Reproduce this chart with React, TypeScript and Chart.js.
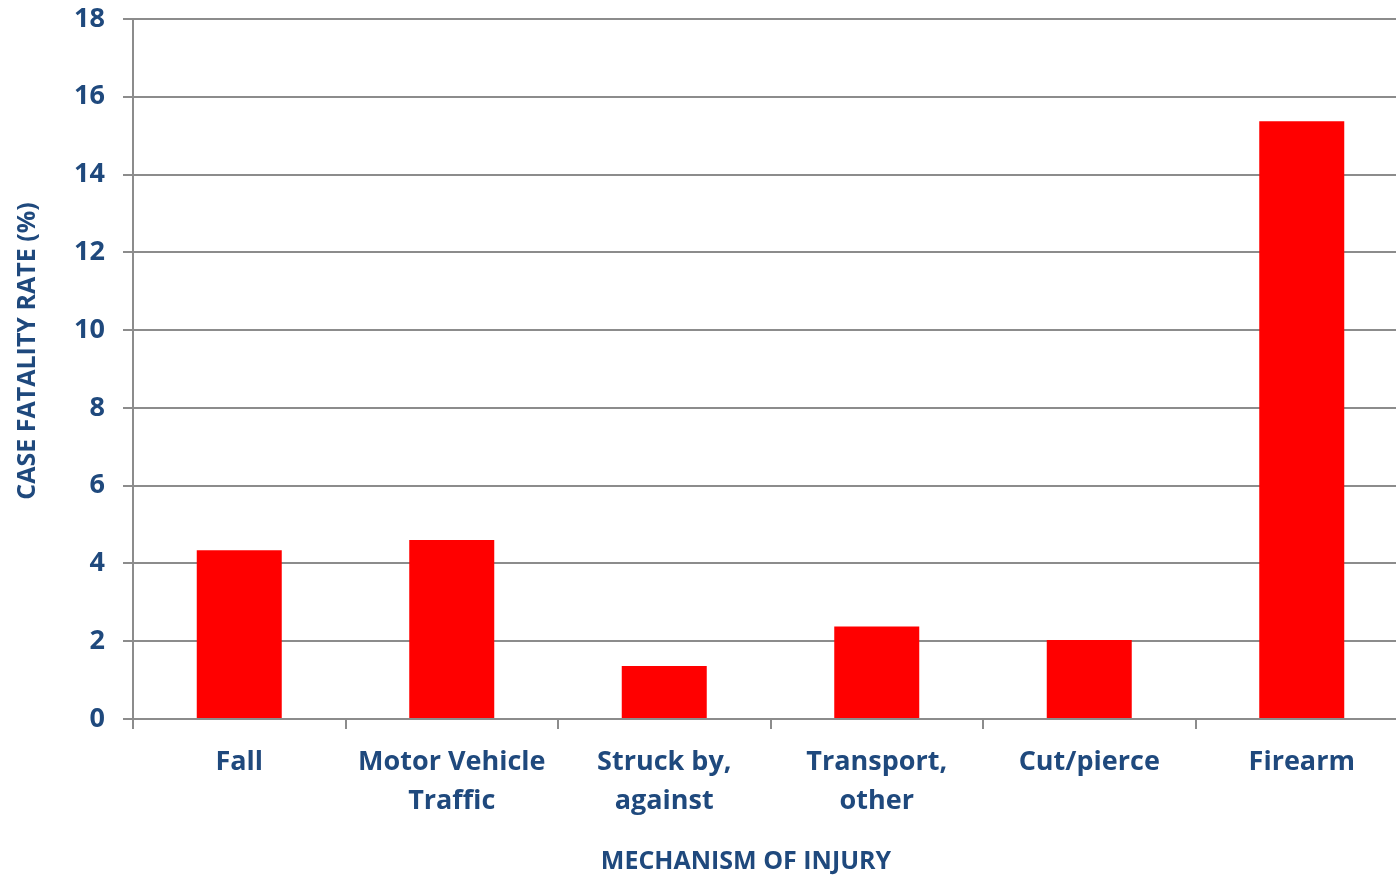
import React, { useEffect, useRef } from "react";
import { Chart, registerables } from "chart.js";

Chart.register(...registerables);

const categories: string[][] = [
  ["Fall"],
  ["Motor Vehicle", "Traffic"],
  ["Struck by,", "against"],
  ["Transport,", "other"],
  ["Cut/pierce"],
  ["Firearm"],
];
const fatalityRates: number[] = [4.34, 4.6, 1.36, 2.38, 2.03, 15.37];
const yTitle = "CASE FATALITY RATE (%)";
const xTitle = "MECHANISM OF INJURY";

const TEXT = "#1F497D";
const GRID = "#8C8C8C";
const FONT = "'Open Sans', 'Noto Sans', sans-serif";

const titlesPlugin = {
  id: "axisTitles",
  afterDraw(chart: any) {
    const ctx = chart.ctx;
    ctx.save();
    ctx.fillStyle = TEXT;
    ctx.font = `bold 25px ${FONT}`;
    ctx.textAlign = "center";
    ctx.textBaseline = "middle";
    ctx.fillText(xTitle, 746, 862);
    ctx.translate(28, 351);
    ctx.rotate(-Math.PI / 2);
    ctx.fillText(yTitle, 0, 0);
    ctx.restore();
  },
};

export default function App() {
  const ref = useRef<HTMLCanvasElement | null>(null);
  useEffect(() => {
    if (!ref.current) return;
    const chart = new Chart(ref.current, {
      type: "bar",
      data: {
        labels: categories as any,
        datasets: [
          {
            data: fatalityRates,
            backgroundColor: "#FF0000",
            borderWidth: 0,
            barPercentage: 0.4,
            categoryPercentage: 1,
          },
        ],
      },
      options: {
        responsive: false,
        animation: false,
        layout: { padding: { top: 19, right: 0, left: 0, bottom: 0 } },
        plugins: { legend: { display: false }, tooltip: { enabled: false } },
        scales: {
          x: {
            offset: true,
            grid: {
              offset: true,
              drawOnChartArea: false,
              drawTicks: true,
              tickLength: 10,
              color: GRID,
              lineWidth: 2,
            },
            border: { color: GRID, width: 2 },
            ticks: {
              color: TEXT,
              font: { family: FONT, size: 27, weight: "bold", lineHeight: 1.44 },
              padding: 14,
              maxRotation: 0,
              autoSkip: false,
            },
            afterFit(scale: any) {
              scale.height = 158;
            },
          },
          y: {
            min: 0,
            max: 18,
            ticks: {
              stepSize: 2,
              color: TEXT,
              font: { family: FONT, size: 27, weight: "bold" },
              padding: 18,
            },
            grid: { color: GRID, lineWidth: 2, tickLength: 10 },
            border: { color: GRID, width: 2 },
            afterFit(scale: any) {
              scale.width = 133;
              scale.paddingTop = 0;
              scale.paddingBottom = 0;
            },
          },
        },
      },
      plugins: [titlesPlugin],
    });
    return () => chart.destroy();
  }, []);
  return (
    <div style={{ position: "absolute", left: 0, top: 0, width: 1396, height: 877, overflow: "hidden", background: "#fff" }}>
      <canvas ref={ref} width={1408} height={877} style={{ display: "block" }} />
    </div>
  );
}
